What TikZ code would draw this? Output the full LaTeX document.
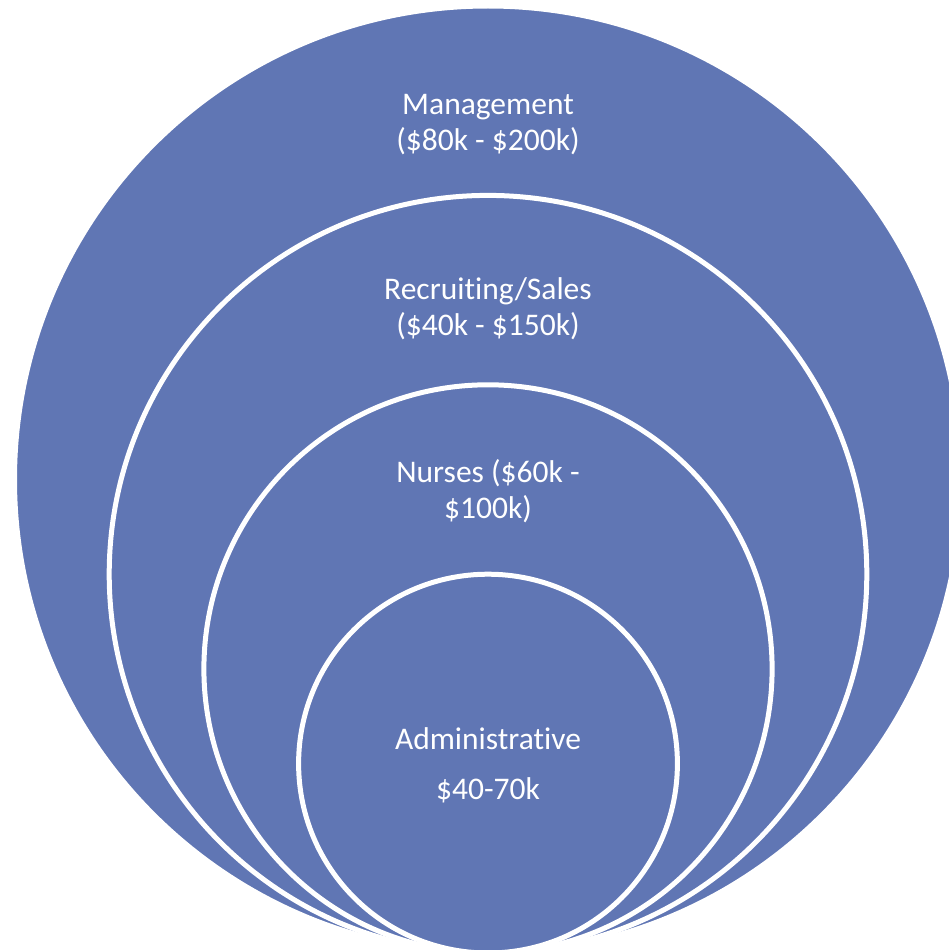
\documentclass[tikz,border=0pt]{standalone}
\usepackage{fontspec}
\setmainfont{Carlito}[Ligatures=NoCommon]
\definecolor{ringblue}{RGB}{96,118,180}
\begin{document}
\begin{tikzpicture}[x=1pt,y=-1pt,
  ring/.style={circle, draw=white, line width=5pt, fill=ringblue, inner sep=0pt},
  lbl/.style={text=white, align=center, anchor=base, inner sep=0pt,
    font=\fontsize{31.5}{35.5}\selectfont}]
\useasboundingbox (0,0) rectangle (949,950);
\clip (0,0) rectangle (949,950);
\node[ring, minimum size=947pt] (c1) at (488,479.5) {};
\node[ring, minimum size=757.6pt] (c2) at (488,574.2) {};
\node[ring, minimum size=568.2pt] (c3) at (488,668.9) {};
\node[ring, minimum size=378.8pt] (c4) at (488,763.6) {};
\node[lbl] (t1) at (488,150) {Management\\(\$80k - \$200k)};
\node[lbl] (t2) at (488,335) {Recruiting/Sales\\(\$40k - \$150k)};
\node[lbl] (t3) at (488,518) {Nurses (\$60k -\\\$100k)};
\node[lbl, font=\fontsize{31.5}{50}\selectfont] (t4) at (488,799) {Administrative\\\$40-70k};
\end{tikzpicture}
\end{document}
